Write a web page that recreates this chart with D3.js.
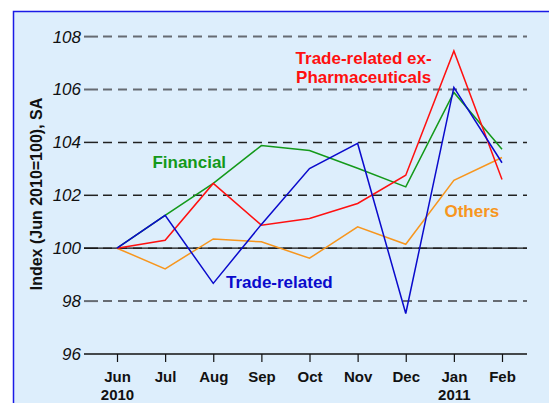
<!DOCTYPE html>
<html>
<head>
<meta charset="utf-8">
<script src="https://cdn.jsdelivr.net/npm/d3@7"></script>
<style>
  body { margin: 0; background: #fff; }
  svg { display: block; font-family: Arial, "Liberation Sans", sans-serif; }
</style>
</head>
<body>
<div id="chart"></div>
<script>
const WIDTH = 549;
const HEIGHT = 403;

const months = ['Jun', 'Jul', 'Aug', 'Sep', 'Oct', 'Nov', 'Dec', 'Jan', 'Feb'];
const years = ['2010', '', '', '', '', '', '', '2011', ''];
const yTicks = [96, 98, 100, 102, 104, 106, 108];

const financial = [100, 101.24, 102.45, 103.88, 103.69, 103.02, 102.32, 105.89, 103.74];
const tradeExPharma = [100, 100.3, 102.45, 100.87, 101.12, 101.69, 102.76, 107.46, 102.6];
const tradeRelated = [100, 101.24, 98.67, 100.9, 103.01, 103.96, 97.53, 106.08, 103.23];
const others = [100, 99.22, 100.35, 100.24, 99.62, 100.81, 100.15, 102.57, 103.43];

const series = [
  {name: 'Others', values: others, color: '#f7961e'},
  {name: 'Financial', values: financial, color: '#13991a'},
  {name: 'Trade-related ex-Pharmaceuticals', values: tradeExPharma, color: '#ff1010'},
  {name: 'Trade-related', values: tradeRelated, color: '#0a0acc'},
];

const labels = [
  {lines: ['Trade-related ex-', 'Pharmaceuticals'], x: 'Nov', y: 106.95, color: '#ff1010', dx: 6},
  {lines: ['Financial'], x: 'Aug', y: 103.05, color: '#13991a', dx: -24},
  {lines: ['Trade-related'], x: 'Sep', y: 98.5, color: '#0a0acc', dx: 18},
  {lines: ['Others'], x: 'Jan', y: 101.17, color: '#f7961e', dx: 18},
];

const svg = d3.select('#chart').append('svg')
  .attr('width', WIDTH)
  .attr('height', HEIGHT);

// panel
svg.append('rect')
  .attr('x', 13.5)
  .attr('y', 11.5)
  .attr('width', WIDTH)
  .attr('height', HEIGHT)
  .attr('fill', '#ddeefc')
  .attr('stroke', '#1a1ae6')
  .attr('stroke-width', 1.5);

const xScale = d3.scalePoint()
  .domain(months)
  .range([117, 502]);

const yScale = d3.scaleLinear()
  .domain([96, 108])
  .range([354, 36.6]);

const AXIS_LEFT = 84;
const AXIS_RIGHT = 527;

// grid lines
const grid = svg.append('g').attr('class', 'grid');
yTicks.filter((t) => t !== 96).forEach((t) => {
  let dark = t === 100 || t === 102 || t === 104;
  grid.append('line')
    .attr('x1', AXIS_LEFT).attr('x2', 98)
    .attr('y1', yScale(t)).attr('y2', yScale(t))
    .attr('stroke', dark ? '#222' : '#666b72')
    .attr('stroke-width', dark ? 1.5 : 2);
  if (t === 100) {
    grid.append('line')
      .attr('x1', AXIS_LEFT).attr('x2', AXIS_RIGHT)
      .attr('y1', yScale(t)).attr('y2', yScale(t))
      .attr('stroke', '#111')
      .attr('stroke-width', 1.2);
  }
  grid.append('line')
    .attr('x1', 103).attr('x2', AXIS_RIGHT)
    .attr('y1', yScale(t)).attr('y2', yScale(t))
    .attr('stroke', dark ? '#222' : '#666b72')
    .attr('stroke-width', dark ? 1.5 : 2)
    .attr('stroke-dasharray', '9,6');
});

// y axis labels (no axis line)
const yAxis = d3.axisLeft(yScale)
  .tickValues(yTicks)
  .tickSize(0)
  .tickPadding(3);

svg.append('g')
  .attr('transform', `translate(${AXIS_LEFT},0)`)
  .call(yAxis)
  .call((g) => g.select('.domain').remove())
  .call((g) => g.selectAll('text')
    .attr('font-size', 17)
    .attr('font-style', 'italic')
    .attr('font-family', 'Arial, "Liberation Sans", sans-serif')
    .attr('fill', '#111'));

// x axis
const xAxis = d3.axisBottom(xScale)
  .tickSize(8)
  .tickSizeOuter(0)
  .tickFormat('');

const xg = svg.append('g')
  .attr('transform', `translate(0,${yScale(96)})`)
  .call(xAxis);
xg.select('.domain')
  .attr('d', `M${AXIS_LEFT},0H${AXIS_RIGHT}`)
  .attr('stroke', '#111')
  .attr('stroke-width', 1.5);
xg.selectAll('.tick line').attr('stroke', '#111').attr('stroke-width', 1.2);
xg.selectAll('.tick').append('text')
  .attr('y', 28)
  .attr('fill', '#111')
  .attr('font-size', 15)
  .attr('font-weight', 'bold')
  .attr('text-anchor', 'middle')
  .text((d) => d);
xg.selectAll('.tick').append('text')
  .attr('y', 46)
  .attr('fill', '#111')
  .attr('font-size', 15)
  .attr('font-weight', 'bold')
  .attr('text-anchor', 'middle')
  .text((d, i) => years[i]);

// y title
svg.append('text')
  .attr('transform', 'translate(42,194) rotate(-90)')
  .attr('text-anchor', 'middle')
  .attr('font-size', 16)
  .attr('font-weight', 'bold')
  .attr('fill', '#111')
  .text('Index (Jun 2010=100), SA');

// lines
const line = d3.line()
  .x((d, i) => xScale(months[i]))
  .y((d) => yScale(d));

svg.append('g').selectAll('path')
  .data(series)
  .enter()
  .append('path')
  .attr('d', (s) => line(s.values))
  .attr('fill', 'none')
  .attr('stroke', (s) => s.color)
  .attr('stroke-width', 1.5);

// series labels
labels.forEach((lab) => {
  let t = svg.append('text')
    .attr('text-anchor', 'middle')
    .attr('font-size', 17)
    .attr('font-weight', 'bold')
    .attr('fill', lab.color);
  lab.lines.forEach((ln, i) => {
    t.append('tspan')
      .attr('x', xScale(lab.x) + (lab.dx || 0))
      .attr('y', yScale(lab.y) + i * 19)
      .text(ln);
  });
});
</script>
</body>
</html>
